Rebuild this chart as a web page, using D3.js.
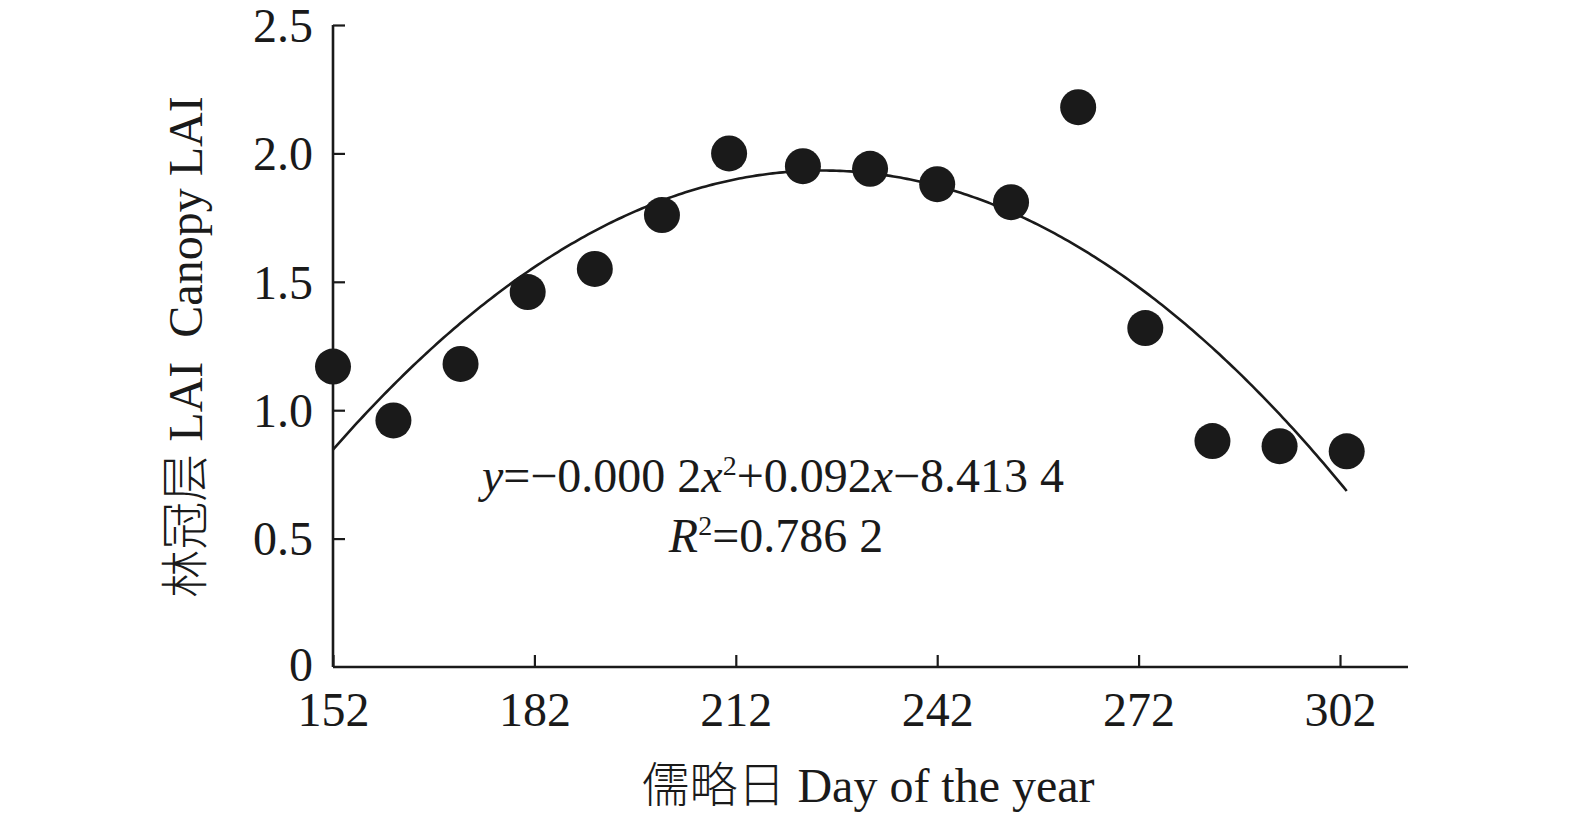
<!DOCTYPE html>
<html><head><meta charset="utf-8">
<script src="https://cdn.jsdelivr.net/npm/d3@7"></script>
<style>html,body{margin:0;padding:0;background:#fff;overflow:hidden;width:1575px;height:819px}svg{display:block;position:absolute;left:0;top:0}</style>
</head><body>
<svg id="c" width="1575" height="819"></svg>
<script>
const days = [152, 161, 171, 181, 191, 201, 211, 222, 232, 242, 253, 263, 273, 283, 293, 303];
const lai = [1.17, 0.96, 1.18, 1.46, 1.55, 1.76, 2.00, 1.95, 1.94, 1.88, 1.81, 2.18, 1.32, 0.88, 0.86, 0.84];
const xTicks = [152, 182, 212, 242, 272, 302];
const yTicks = [0, 0.5, 1.0, 1.5, 2.0, 2.5];
const yTickLabels = ["0", "0.5", "1.0", "1.5", "2.0", "2.5"];
const fitRange = [152, 303];

const svg = d3.select("#c");
const font = "'Liberation Serif','Times New Roman',serif";
const cjk = "'Noto Sans CJK SC'";
const x = d3.scaleLinear().domain([152, 302]).range([333, 1340]);
const y = d3.scaleLinear().domain([0, 2.5]).range([667, 25]);

// least squares quadratic fit
function quadFit(xs, ys) {
  const n = xs.length;
  let s = [0,0,0,0,0], t = [0,0,0];
  for (let i = 0; i < n; i++) {
    const xi = xs[i], yi = ys[i];
    for (let k = 0; k < 5; k++) s[k] += Math.pow(xi, k);
    for (let k = 0; k < 3; k++) t[k] += yi * Math.pow(xi, k);
  }
  const A = [[s[0], s[1], s[2], t[0]], [s[1], s[2], s[3], t[1]], [s[2], s[3], s[4], t[2]]];
  for (let i = 0; i < 3; i++) {
    for (let j = i + 1; j < 3; j++) {
      const f = A[j][i] / A[i][i];
      for (let k = i; k < 4; k++) A[j][k] -= f * A[i][k];
    }
  }
  const c = [0,0,0];
  for (let i = 2; i >= 0; i--) {
    let v = A[i][3];
    for (let k = i + 1; k < 3; k++) v -= A[i][k] * c[k];
    c[i] = v / A[i][i];
  }
  return c;
}
const coef = quadFit(days, lai);
const fitPts = d3.range(fitRange[0], fitRange[1] + 0.01, 0.5).map(d => [d, coef[0] + coef[1]*d + coef[2]*d*d]);

// axes
const gx = svg.append("g").attr("transform", "translate(0,667)")
  .call(d3.axisBottom(x).tickValues(xTicks).tickSize(-12).tickPadding(25).tickFormat(d3.format("d")));
gx.select(".domain").attr("d", "M333,0H1408");
const gy = svg.append("g").attr("transform", "translate(333,0)")
  .call(d3.axisLeft(y).tickValues(yTicks).tickSize(-12).tickPadding(20).tickFormat((d, i) => yTickLabels[i]));
gy.select(".domain").attr("d", "M0,25V667");
svg.selectAll(".domain").attr("stroke", "#1a1a1a").attr("stroke-width", 2.6);
svg.selectAll(".tick line").attr("stroke", "#1a1a1a").attr("stroke-width", 2.2);
svg.selectAll(".tick text").attr("font-family", font).attr("font-size", 48).attr("fill", "#1a1a1a");
gy.selectAll(".tick").filter(d => d === 0).select("line").remove();
gx.selectAll(".tick text").attr("dy", "0.71em");
gy.selectAll(".tick text").attr("dy", "0.34em");
gy.selectAll(".tick").filter(d => d === 0).select("text").attr("dy", "0.28em");

// fit curve
svg.append("path").datum(fitPts)
  .attr("d", d3.line().x(d => x(d[0])).y(d => y(d[1])))
  .attr("fill", "none").attr("stroke", "#1a1a1a").attr("stroke-width", 2.6);

// points
svg.append("g").selectAll("circle").data(days).join("circle")
  .attr("cx", d => x(d)).attr("cy", (d, i) => y(lai[i])).attr("r", 18).attr("fill", "#1a1a1a");

// equation
const eq = svg.append("text").attr("x", 773).attr("y", 492).attr("text-anchor", "middle")
  .attr("font-family", font).attr("font-size", 48).attr("fill", "#1a1a1a");
eq.append("tspan").attr("font-style", "italic").text("y");
eq.append("tspan").text("=\u22120.000 2");
eq.append("tspan").attr("font-style", "italic").text("x");
eq.append("tspan").attr("font-size", 28).attr("dy", -17).text("2");
eq.append("tspan").attr("dy", 17).text("+0.092");
eq.append("tspan").attr("font-style", "italic").text("x");
eq.append("tspan").text("\u22128.413 4");

const r2 = svg.append("text").attr("x", 776).attr("y", 552).attr("text-anchor", "middle")
  .attr("font-family", font).attr("font-size", 48).attr("fill", "#1a1a1a");
r2.append("tspan").attr("font-style", "italic").text("R");
r2.append("tspan").attr("font-size", 28).attr("dy", -17).text("2");
r2.append("tspan").attr("dy", 17).text("=0.786 2");

// axis titles
svg.append("text").attr("x", 868).attr("y", 802).attr("text-anchor", "middle")
  .attr("font-family", font).attr("font-size", 48).attr("fill", "#1a1a1a")
  .html(`<tspan font-family="${cjk}" font-weight="300">儒略日</tspan> Day of the year`);
svg.append("text").attr("transform", "translate(202,347) rotate(-90)").attr("text-anchor", "middle")
  .attr("font-family", font).attr("font-size", 48).attr("fill", "#1a1a1a")
  .attr("xml:space", "preserve").style("white-space", "pre")
  .html(`<tspan font-family="${cjk}" font-weight="300">林冠层</tspan> LAI  Canopy LAI`);
</script>
</body></html>
